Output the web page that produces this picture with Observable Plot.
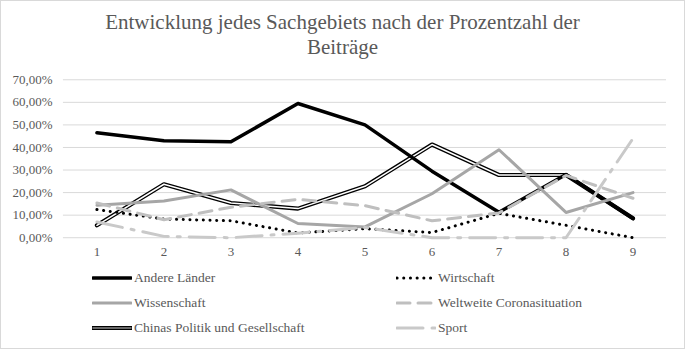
<!DOCTYPE html>
<html><head><meta charset="utf-8">
<script src="https://cdn.jsdelivr.net/npm/d3@7"></script>
<script src="https://cdn.jsdelivr.net/npm/@observablehq/plot@0.6"></script>
<style>
body{margin:0;background:#fff;}
#frame{position:relative;width:683px;height:347px;border:1px solid #d9d9d9;font-family:"Liberation Serif","Times New Roman",serif;color:#595959;overflow:hidden;background:#fff}
#title{position:absolute;left:0;top:9px;width:683px;text-align:center;font-size:21px;line-height:25px;}
#chart{position:absolute;left:-1px;top:59px;}
.leg{position:absolute;height:16px;display:flex;align-items:center;font-size:13.5px;white-space:nowrap;}
.leg svg{margin-right:2px;}
</style></head><body>
<div id="frame">
 <div id="title">Entwicklung jedes Sachgebiets nach der Prozentzahl der<br>Beiträge</div>
 <div id="chart"></div>
 <div id="legend"></div>
</div>
<script>
// ---- data (percent values) ----
const categories = [1, 2, 3, 4, 5, 6, 7, 8, 9];
const seriesNames = ["Andere Länder", "Wirtschaft", "Wissenschaft", "Weltweite Coronasituation", "Chinas Politik und Gesellschaft", "Sport"];
const andereLaender = [46.5, 43.0, 42.5, 59.5, 50.0, 29.5, 11.3, 28.0, 8.5];
const wirtschaft    = [12.5, 8.3, 7.5, 2.1, 4.0, 2.3, 10.8, 5.5, 0.0];
const wissenschaft  = [14.4, 16.3, 21.2, 6.3, 4.8, 19.5, 39.0, 11.2, 20.0];
const weltweite     = [15.4, 8.0, 13.5, 17.0, 14.2, 7.5, 11.0, 27.6, 17.5];
const chinasPolitik = [5.5, 23.7, 15.4, 12.9, 22.8, 41.3, 27.8, 27.8, 8.6];
const sport         = [7.0, 0.6, 0.0, 2.0, 4.5, 0.0, 0.0, 0.0, 44.0];
const yTicks = [0, 10, 20, 30, 40, 50, 60, 70];

const valueArrays = [andereLaender, wirtschaft, wissenschaft, weltweite, chinasPolitik, sport];
const rows = [];
seriesNames.forEach((name, si) => categories.forEach((c, i) => rows.push({series: name, cat: c, value: valueArrays[si][i]})));
const of = name => rows.filter(r => r.series === name);

// ---- styles ----
const styles = {
  "Andere Länder": [{stroke: "#000", strokeWidth: 3.5}],
  "Wirtschaft": [{stroke: "#000", strokeWidth: 3, strokeDasharray: "0.1 6.6", strokeLinecap: "round"}],
  "Wissenschaft": [{stroke: "#a6a6a6", strokeWidth: 3}],
  "Weltweite Coronasituation": [{stroke: "#bfbfbf", strokeWidth: 3, strokeDasharray: "13 8"}],
  "Chinas Politik und Gesellschaft": [{stroke: "#000", strokeWidth: 4.2}, {stroke: "#fff", strokeWidth: 1.5}],
  "Sport": [{stroke: "#c9c9c9", strokeWidth: 3, strokeDasharray: "26 9 3 9"}]
};
const drawOrder = ["Chinas Politik und Gesellschaft", "Andere Länder", "Wirtschaft", "Wissenschaft", "Weltweite Coronasituation", "Sport"];

const lineMarks = [];
for (const name of drawOrder) {
  for (const st of styles[name]) {
    lineMarks.push(Plot.line(of(name), {x: "cat", y: "value", strokeLinejoin: "round", ...st}));
  }
}

const chart = Plot.plot({
  width: 685, height: 205,
  marginLeft: 63, marginRight: 18, marginTop: 19.3, marginBottom: 27.5,
  style: {fontFamily: "Liberation Serif, Times New Roman, serif", fontSize: "13px", color: "#595959", background: "transparent", overflow: "visible"},
  x: {type: "linear", domain: [0.5, 9.5]},
  y: {domain: [0, 70]},
  marks: [
    Plot.ruleY(yTicks, {stroke: "#d9d9d9", strokeWidth: 1}),
    Plot.axisY({ticks: yTicks, tickSize: 0, tickPadding: 11, tickFormat: d => d.toFixed(2).replace(".", ",") + "%", fontSize: 13, label: null}),
    Plot.axisX({ticks: categories, tickSize: 0, tickPadding: 9, fontSize: 13, label: null}),
    ...lineMarks
  ]
});
document.getElementById("chart").appendChild(chart);

// ---- legend ----
const legend = document.getElementById("legend");
const legCols = [91, 395];
const legRows = [269, 294, 319];
seriesNames.forEach((name, i) => {
  const div = document.createElement("div");
  div.className = "leg";
  div.style.left = legCols[i % 2] + "px";
  div.style.top = legRows[Math.floor(i / 2)] + "px";
  const ns = "http://www.w3.org/2000/svg";
  const svg = document.createElementNS(ns, "svg");
  svg.setAttribute("width", 40); svg.setAttribute("height", 10);
  for (const st of styles[name]) {
    const l = document.createElementNS(ns, "line");
    l.setAttribute("x1", 1); l.setAttribute("x2", 39); l.setAttribute("y1", 5); l.setAttribute("y2", 5);
    l.setAttribute("stroke", name === "Chinas Politik und Gesellschaft" && st.stroke === "#fff" ? "#8a8a8a" : st.stroke);
    l.setAttribute("stroke-width", st.strokeWidth);
    if (st.strokeDasharray) l.setAttribute("stroke-dasharray", st.strokeDasharray);
    if (st.strokeLinecap) l.setAttribute("stroke-linecap", st.strokeLinecap);
    else l.setAttribute("stroke-linecap", "round");
    svg.appendChild(l);
  }
  div.appendChild(svg);
  const span = document.createElement("span");
  span.textContent = name;
  div.appendChild(span);
  legend.appendChild(div);
});
</script>
</body></html>
